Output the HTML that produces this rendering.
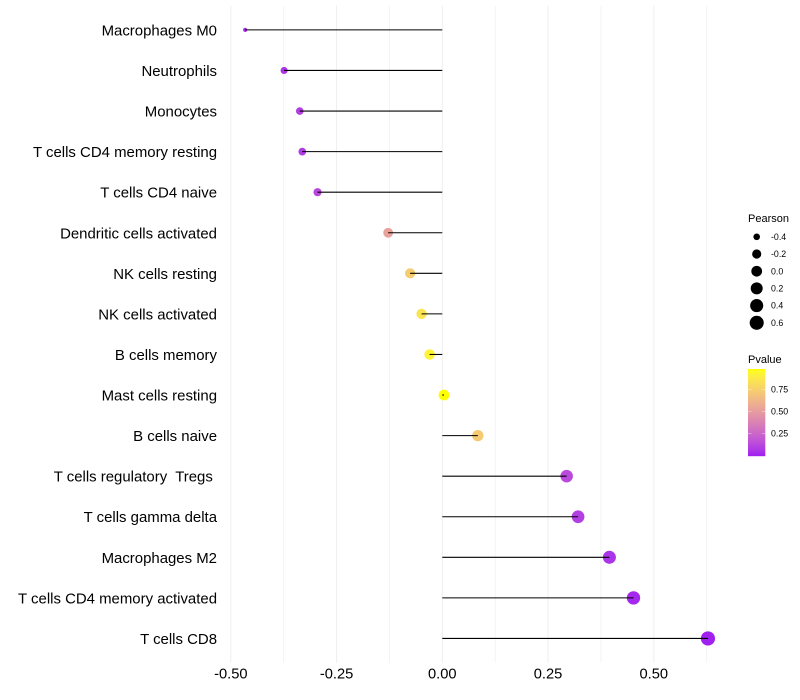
<!DOCTYPE html>
<html>
<head>
<meta charset="utf-8">
<style>
html,body{margin:0;padding:0;background:#fff;width:800px;height:700px;overflow:hidden}
svg{display:block}
text{font-family:"Liberation Sans",Arial,sans-serif;white-space:pre}
</style>
</head>
<body>
<svg id="chart" width="800" height="700" viewBox="0 0 800 700" xmlns="http://www.w3.org/2000/svg"></svg>
<script>
const categories = ["Macrophages M0","Neutrophils","Monocytes","T cells CD4 memory resting","T cells CD4 naive","Dendritic cells activated","NK cells resting","NK cells activated","B cells memory","Mast cells resting","B cells naive","T cells regulatory  Tregs ","T cells gamma delta","Macrophages M2","T cells CD4 memory activated","T cells CD8"];
const pearson = [-0.466,-0.374,-0.337,-0.331,-0.295,-0.128,-0.076,-0.049,-0.030,0.004,0.084,0.294,0.321,0.395,0.452,0.628];
const pvalue = [0.03,0.06,0.09,0.08,0.12,0.52,0.73,0.85,0.92,0.98,0.72,0.13,0.09,0.05,0.02,0.0];
const xTicks = [-0.5,-0.25,0,0.25,0.5];
const xTickLabels = ["-0.50","-0.25","0.00","0.25","0.50"];
const xMinorTicks = [-0.375,-0.125,0.125,0.375,0.625];
const sizeLegendValues = [-0.4,-0.2,0.0,0.2,0.4,0.6];
const sizeLegendLabels = ["-0.4","-0.2","0.0","0.2","0.4","0.6"];
const colorLegendValues = [0.25,0.5,0.75];
const colorLegendLabels = ["0.25","0.50","0.75"];

const svg = document.getElementById('chart');
const NS = 'http://www.w3.org/2000/svg';
function mk(tag, attrs, parent){
  const e = document.createElementNS(NS, tag);
  for (const k in attrs) e.setAttribute(k, attrs[k]);
  (parent || svg).appendChild(e);
  return e;
}
const xScale = v => 442.3 + v * 423;
const yScale = i => 29.9 + i * 40.57;
const panelTop = 5.6, panelBottom = 662.8;

const pMax = Math.max(...pvalue);
const sizeMin = Math.min(...pearson), sizeMax = Math.max(...pearson);
const radius = v => 2.1 + 5 * Math.sqrt(Math.max(0, (v - sizeMin) / (sizeMax - sizeMin)));

function toLab(r,g,b){
  const f = c => { c/=255; return c<=0.04045 ? c/12.92 : Math.pow((c+0.055)/1.055,2.4); };
  const R=f(r),G=f(g),B=f(b);
  const X=(0.4124*R+0.3576*G+0.1805*B)/0.95047, Y=0.2126*R+0.7152*G+0.0722*B, Z=(0.0193*R+0.1192*G+0.9505*B)/1.08883;
  const h = t => t>0.008856 ? Math.cbrt(t) : 7.787*t+16/116;
  return [116*h(Y)-16, 500*(h(X)-h(Y)), 200*(h(Y)-h(Z))];
}
function fromLab(L,a,b){
  const fy=(L+16)/116, fx=fy+a/500, fz=fy-b/200;
  const h = t => t*t*t>0.008856 ? t*t*t : (t-16/116)/7.787;
  const X=0.95047*h(fx),Y=h(fy),Z=1.08883*h(fz);
  const g = c => { c=Math.max(0,Math.min(1,c)); return Math.round(255*(c<=0.0031308?12.92*c:1.055*Math.pow(c,1/2.4)-0.055)); };
  return 'rgb('+g(3.2406*X-1.5372*Y-0.4986*Z)+','+g(-0.9689*X+1.8758*Y+0.0415*Z)+','+g(0.0557*X-0.204*Y+1.057*Z)+')';
}
const labLow = toLab(160,32,240), labHigh = toLab(255,255,0);
const colorScale = p => {
  const t = Math.max(0, Math.min(1, p / pMax));
  return fromLab(labLow[0]+(labHigh[0]-labLow[0])*t, labLow[1]+(labHigh[1]-labLow[1])*t, labLow[2]+(labHigh[2]-labLow[2])*t);
};

/* grid */
xMinorTicks.forEach(v => {
  const g = mk('line',{x1:xScale(v),x2:xScale(v),y1:panelTop,y2:panelBottom,stroke:'#f1f1f1','stroke-width':0.8});
  
  
});
xTicks.forEach(v => {
  const g = mk('line',{x1:xScale(v),x2:xScale(v),y1:panelTop,y2:panelBottom,stroke:'#f0f0f0','stroke-width':1.07});
  
  
});

/* marks: points first, segments on top */
categories.forEach((c,i) => {
  const p = mk('circle',{cx:xScale(pearson[i]),cy:yScale(i),r:radius(pearson[i]),fill:colorScale(pvalue[i])});
  
  
  const s = mk('line',{x1:xScale(0),x2:xScale(pearson[i]),y1:yScale(i),y2:yScale(i),stroke:'#000','stroke-width':1.07});
  
  
  const t = mk('text',{x:217,y:yScale(i)+5.5,'text-anchor':'end','font-size':14.95,fill:'#000'});
  t.textContent = c;
  
  
});

/* x axis labels */
xTicks.forEach((v,i) => {
  const t = mk('text',{x:xScale(v),y:678.5,'text-anchor':'middle','font-size':14.67,fill:'#000'});
  t.textContent = xTickLabels[i];
  
  
});

/* size legend */
const sizeTitle = mk('text',{x:748,y:222,'font-size':11,fill:'#000'});
sizeTitle.textContent = 'Pearson';


sizeLegendValues.forEach((v,i) => {
  const y = 236.8 + i * 17.2;
  const c = mk('circle',{cx:756.7,cy:y,r:radius(v),fill:'#000'});
  
  
  const t = mk('text',{x:771,y:y+3.1,'font-size':8.8,fill:'#000'});
  t.textContent = sizeLegendLabels[i];
  
  
});

/* colour legend */
const colorTitle = mk('text',{x:748,y:363,'font-size':11,fill:'#000'});
colorTitle.textContent = 'Pvalue';


const barTop = 369, barBottom = 455.5, barX = 748, barW = 17.3;
const legendY = p => barBottom - (p / pMax) * (barBottom - barTop);
const bar = mk('g',{});


for (let y = barTop; y < barBottom; y += 1) {
  const p = (barBottom - y - 0.5) / (barBottom - barTop) * pMax;
  mk('rect',{x:barX,y:y,width:barW,height:1.2,fill:colorScale(p)},bar);
}
colorLegendValues.forEach((v,i) => {
  const y = legendY(v);
  const a = mk('line',{x1:barX,x2:barX+3.5,y1:y,y2:y,stroke:'#fff','stroke-width':0.5,'stroke-opacity':0.7});
  
  
  const b = mk('line',{x1:barX+barW-3.5,x2:barX+barW,y1:y,y2:y,stroke:'#fff','stroke-width':0.5,'stroke-opacity':0.7});
  
  
  const t = mk('text',{x:771,y:y+3.1,'font-size':8.8,fill:'#000'});
  t.textContent = colorLegendLabels[i];
  
  
});
</script>
</body>
</html>
